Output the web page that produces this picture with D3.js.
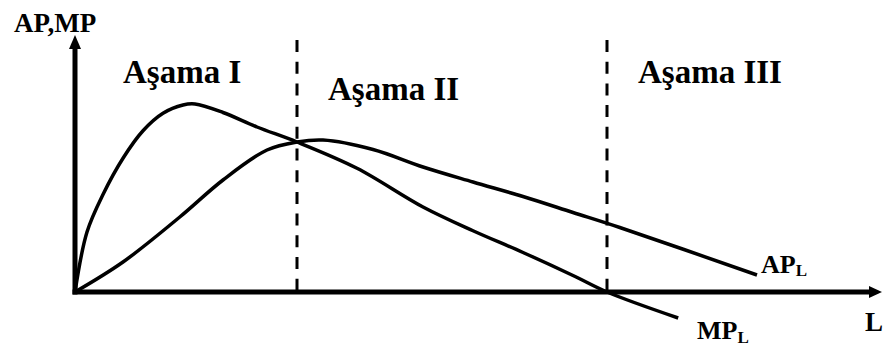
<!DOCTYPE html>
<html>
<head>
<meta charset="utf-8">
<script src="https://cdn.jsdelivr.net/npm/d3@7"></script>
<style>
  body { margin: 0; background: #fff; }
</style>
</head>
<body>
<div id="chart"></div>
<script>
// curves (L, value), arbitrary units
var mpL  = [0, 1.5, 3.5, 6, 8.5, 11, 13.5, 15, 18.5, 22.75, 27.75, 35.25, 43.5, 49.75, 56, 62.25, 66.5, 75.4];
var mpV  = [0, 24, 39, 53.5, 64.5, 71.5, 74.8, 75.2, 71.8, 66, 60, 49.5, 34, 24.5, 15.8, 6.6, 0, -10.4];
var apL  = [0, 6, 13.1, 18.5, 24, 27.75, 31, 37.25, 43.5, 49.75, 56, 62.25, 68.1, 85.25];
var apV  = [0, 12, 30, 44.8, 56.8, 60, 60.8, 57, 50, 44, 38.2, 31.8, 25.8, 6.8];
var stageBounds = [27.75, 66.5];
var stageLabels = ["Aşama I", "Aşama II", "Aşama III"];

var width = 884, height = 349;

var svg = d3.select("#chart")
  .append("svg")
    .attr("width", width)
    .attr("height", height)
    .attr("font-family", "'Liberation Serif', 'DejaVu Serif', serif")
    .attr("font-weight", "bold");

var x = d3.scaleLinear()
    .domain([0, 100])
    .range([75, 875]);
var y = d3.scaleLinear()
    .domain([0, 100])
    .range([292, 42]);

var line = d3.line()
    .x(function(d) { return x(d[0]) })
    .y(function(d) { return y(d[1]) })
    .curve(d3.curveCatmullRom.alpha(0.5));

// dashed stage dividers
svg.append("g")
  .selectAll("line")
  .data(stageBounds)
  .enter()
  .append("line")
    .attr("x1", function(d) { return x(d) })
    .attr("x2", function(d) { return x(d) })
    .attr("y1", y(100.8))
    .attr("y2", y(0))
    .attr("stroke", "#000")
    .attr("stroke-width", 3)
    .attr("stroke-dasharray", "12,9.7");

// curves
svg.append("path")
    .datum(d3.zip(mpL, mpV))
    .attr("fill", "none")
    .attr("stroke", "#000")
    .attr("stroke-width", 3.5)
    .attr("d", line);
svg.append("path")
    .datum(d3.zip(apL, apV))
    .attr("fill", "none")
    .attr("stroke", "#000")
    .attr("stroke-width", 3.5)
    .attr("d", line);

// axes with arrowheads
var x0 = x(0), y0 = y(0);
svg.append("line")
    .attr("x1", x0).attr("y1", y0 + 2.5)
    .attr("x2", x0).attr("y2", 46)
    .attr("stroke", "#000").attr("stroke-width", 5);
svg.append("polygon")
    .attr("points", [[x0 - 6, 49], [x0 + 6, 49], [x0, 35]].join(" "))
    .attr("fill", "#000");
svg.append("line")
    .attr("x1", x0 - 2.5).attr("y1", y0)
    .attr("x2", 872).attr("y2", y0)
    .attr("stroke", "#000").attr("stroke-width", 5);
svg.append("polygon")
    .attr("points", [[869, y0 - 6], [869, y0 + 6], [882, y0]].join(" "))
    .attr("fill", "#000");

// text
svg.append("text").text("AP,MP")
    .attr("x", 14).attr("y", 32)
    .attr("font-size", 27);
svg.append("text").text("L")
    .attr("x", 865).attr("y", 331)
    .attr("font-size", 27);

var stagePos = [[123, 83], [328, 100], [638, 83]];
svg.append("g")
  .selectAll("text")
  .data(stageLabels)
  .enter()
  .append("text")
    .text(function(d) { return d })
    .attr("x", function(d, i) { return stagePos[i][0] })
    .attr("y", function(d, i) { return stagePos[i][1] })
    .attr("font-size", 33);

var ap = svg.append("text").attr("x", 761).attr("y", 273).attr("font-size", 26);
ap.append("tspan").text("AP");
ap.append("tspan").text("L").attr("dy", 3).attr("font-size", 17);

var mp = svg.append("text").attr("x", 697).attr("y", 339).attr("font-size", 26);
mp.append("tspan").text("MP");
mp.append("tspan").text("L").attr("dy", 4).attr("font-size", 17);
</script>
</body>
</html>
